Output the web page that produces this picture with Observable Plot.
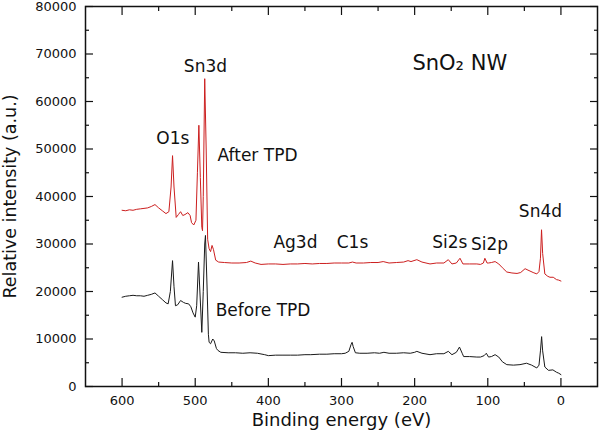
<!DOCTYPE html>
<html><head><meta charset="utf-8">
<script src="https://cdn.jsdelivr.net/npm/d3@7"></script>
<script src="https://cdn.jsdelivr.net/npm/@observablehq/plot@0.6"></script>
<style>body{margin:0;background:#fff}</style>
</head><body><div id="chart"></div>
<script>
// Binding energy (eV), relative intensity (a.u.)
const afterTPD = [
[600,37100],[595,37000],[590,37200],[585,37100],[580,37300],[575,37400],[570,37500],[565,37600],[560,37900],[555,38300],
[550,37600],[545,37000],[540,36400],[536,36800],[533,42000],[531,48600],[529,42000],[526,35600],[523,36200],[520,36800],
[517,36000],[514,36200],[510,36600],[507,36000],[505,34500],[502,34000],[499,35000],[497,45000],[495,55000],[493,44000],
[491,33500],[490,32800],[489,40000],[487,64800],[485,50000],[483,31000],[481,29000],[479,28400],[477,29700],[475,28800],
[472,26600],[468,26200],[460,26100],[450,26000],[440,26000],[430,26100],[424,26400],[418,26000],[410,25700],[400,25800],
[390,25800],[380,25700],[370,25800],[360,25800],[350,25900],[340,25800],[330,25900],[320,25900],[310,26000],[300,26000],
[290,26000],[285,26200],[280,26000],[270,26000],[260,26100],[250,26100],[243,26300],[235,26000],[225,26100],[215,26200],
[209,26500],[205,26300],[197,26700],[190,26200],[179,25800],[170,26000],[160,26000],[154,26700],[149,25800],[143,26000],
[138,27000],[134,25800],[125,25800],[115,25800],[110,25700],[106,26000],[104,27000],[101,26000],[99,26000],[95,26100],
[90,26300],[85,25800],[80,25000],[74,24100],[67,23900],[60,23800],[55,24000],[49,24800],[45,24500],[38,24000],
[33,23700],[30,24200],[28,27000],[26.5,33000],[25,28000],[22,23700],[18,23200],[15,23000],[10.5,23000],[6,22500],
[3,22400],[0,22200]
];
const beforeTPD = [
[600,18800],[595,19000],[590,19100],[585,19200],[580,19100],[575,19100],[570,19000],[565,19200],[560,19400],[555,19700],
[550,19000],[545,18300],[540,17600],[537,17400],[534,20000],[531,26500],[529,21000],[527,17000],[524,17200],[520,18100],
[516,17700],[513,17500],[509,17400],[506,16800],[503,15500],[500,14600],[498,17000],[495.5,26200],[493,18000],[491,11400],
[489,20000],[487,30000],[486,31800],[484,22000],[482,11000],[481,9300],[479,9000],[476,10000],[474,9600],[471,8000],
[469,7600],[465,7200],[455,7100],[445,7100],[435,7000],[425,7100],[415,7000],[405,6700],[400,6500],[390,6600],
[380,6600],[370,6600],[360,6600],[350,6700],[342,6700],[330,6800],[320,6800],[310,6900],[300,6900],[295,7000],
[290,7400],[287,8800],[285.5,9300],[284,8400],[281,7100],[275,7000],[265,7000],[255,7100],[248,7000],[242,7200],
[235,7000],[225,7000],[215,7100],[206,7000],[200,7200],[197,7400],[190,7000],[179,6700],[170,6900],[160,6900],
[154,7400],[149,6700],[143,7200],[138.7,8300],[135,7000],[133,6300],[125,6300],[115,6200],[110,6200],[105,6500],
[102,7000],[99,6200],[95,6300],[90,6700],[85,6200],[80,5200],[74,4600],[65,4500],[56,4600],[47,4900],
[40,4500],[33,3900],[30,4500],[28,7500],[26.4,10500],[25,7500],[22,4100],[17,3400],[11,3500],[6,3000],
[3,2800],[0,2500]
];

const xMajor = [600, 500, 400, 300, 200, 100, 0];
const xMinor = [550, 450, 350, 250, 150, 50];
const yMajor = [0, 10000, 20000, 30000, 40000, 50000, 60000, 70000, 80000];
const yMinor = [5000, 15000, 25000, 35000, 45000, 55000, 65000, 75000];

const labelText   = ["O1s", "Sn3d", "After TPD", "Before TPD", "Ag3d", "C1s", "Si2s", "Si2p", "Sn4d"];
const labelEnergy = [530.5, 486, 469.5, 472, 363, 285, 152, 97.6, 28];
const labelValue  = [52300, 67400, 48600, 16000, 30400, 30400, 30400, 29900, 36800];
const labelAlign  = ["middle", "middle", "start", "start", "middle", "middle", "middle", "middle", "middle"];

const sampleName = ["SnO₂ NW"];
const sampleEnergy = [203];
const sampleValue = [68000];

const xTitle = "Binding energy (eV)";
const yTitle = "Relative intensity (a.u.)";

const labels = labelText.map((t, i) => ({t, x: labelEnergy[i], y: labelValue[i], a: labelAlign[i]}));
const sample = sampleName.map((t, i) => ({t, x: sampleEnergy[i], y: sampleValue[i]}));

const tickStyle = {strokeWidth: 1.2, label: null};
const fmt = d3.format("d");

const chart = Plot.plot({
  width: 600, height: 437,
  marginLeft: 85, marginRight: 3, marginTop: 6, marginBottom: 51,
  x: {domain: [650, -50]},
  y: {domain: [0, 80000]},
  style: {fontFamily: "DejaVu Sans", fontSize: "13px", color: "#111", background: "white"},
  marks: [
    Plot.line(afterTPD, {x: d => d[0], y: d => d[1], stroke: "#cc1f1f", strokeWidth: 1}),
    Plot.line(beforeTPD, {x: d => d[0], y: d => d[1], stroke: "#1a1a1a", strokeWidth: 1}),
    Plot.axisX(xMajor, {anchor: "bottom", tickSize: -8, tickPadding: 17, tickFormat: fmt, ...tickStyle}),
    Plot.axisX(xMinor, {anchor: "bottom", tickSize: -4, fill: "none", ...tickStyle}),
    Plot.axisX(xMajor, {anchor: "top", tickSize: -8, fill: "none", ...tickStyle}),
    Plot.axisX(xMinor, {anchor: "top", tickSize: -4, fill: "none", ...tickStyle}),
    Plot.axisY(yMajor, {anchor: "left", tickSize: -8, tickPadding: 17, tickFormat: fmt, ...tickStyle}),
    Plot.axisY(yMinor, {anchor: "left", tickSize: -4, fill: "none", ...tickStyle}),
    Plot.axisY(yMajor, {anchor: "right", tickSize: -8, fill: "none", ...tickStyle}),
    Plot.axisY(yMinor, {anchor: "right", tickSize: -4, fill: "none", ...tickStyle}),
    Plot.frame({stroke: "#111", strokeWidth: 1.5}),
    Plot.text(labels.filter(d => d.a === "middle"), {x: "x", y: "y", text: "t", textAnchor: "middle", fontSize: 17, fill: "#111"}),
    Plot.text(labels.filter(d => d.a === "start"), {x: "x", y: "y", text: "t", textAnchor: "start", fontSize: 17, fill: "#111"}),
    Plot.text(sample, {x: "x", y: "y", text: "t", textAnchor: "start", fontSize: 21, fill: "#111"}),
    Plot.text([xTitle], {text: d => d, frameAnchor: "bottom", textAnchor: "middle", dy: 39, lineAnchor: "bottom", fontSize: 18, fill: "#111"}),
    Plot.text([yTitle], {text: d => d, frameAnchor: "left", textAnchor: "middle", dx: -82, rotate: -90, lineAnchor: "top", fontSize: 17.5, fill: "#111"})
  ]
});
document.getElementById("chart").append(chart);
</script>
</body></html>
